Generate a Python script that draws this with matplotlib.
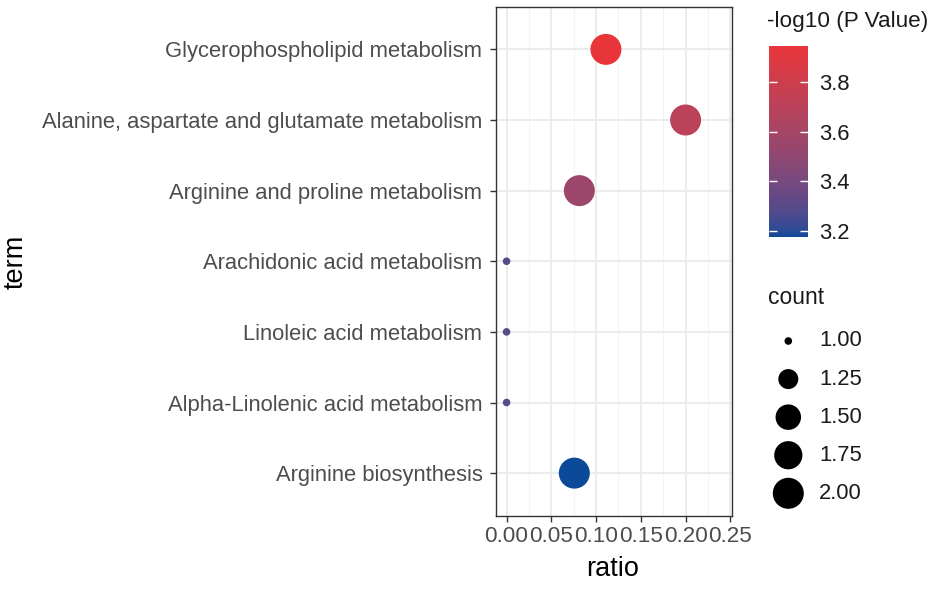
import numpy as np
import matplotlib
matplotlib.use("Agg")
import matplotlib.pyplot as plt
from matplotlib.colors import ListedColormap, Normalize
from matplotlib.cm import ScalarMappable
from matplotlib.ticker import FixedLocator

plt.rcParams['font.family'] = ['Liberation Sans', 'DejaVu Sans']

# ---------------- data ----------------
terms = [
    "Glycerophospholipid metabolism",
    "Alanine, aspartate and glutamate metabolism",
    "Arginine and proline metabolism",
    "Arachidonic acid metabolism",
    "Linoleic acid metabolism",
    "Alpha-Linolenic acid metabolism",
    "Arginine biosynthesis",
]
ratio = [0.111, 0.200, 0.0813, 0.0, 0.0, 0.0, 0.0757]
count = [2, 2, 2, 1, 1, 1, 2]
neglog10p = [3.946, 3.71, 3.56, 3.30, 3.30, 3.30, 3.173]

x_ticks = [0.00, 0.05, 0.10, 0.15, 0.20, 0.25]
x_tick_labels = ["0.00", "0.05", "0.10", "0.15", "0.20", "0.25"]
cbar_ticks = [3.2, 3.4, 3.6, 3.8]
cbar_tick_labels = ["3.2", "3.4", "3.6", "3.8"]
size_breaks = [1.00, 1.25, 1.50, 1.75, 2.00]
size_break_labels = ["1.00", "1.25", "1.50", "1.75", "2.00"]

# ---------------- colour scale (Lab interpolation like ggplot) ----------------
def _hex_to_rgb(h):
    h = h.lstrip('#')
    return np.array([int(h[i:i + 2], 16) / 255.0 for i in (0, 2, 4)])

def _srgb_to_lab(rgb):
    rgb = np.where(rgb <= 0.04045, rgb / 12.92, ((rgb + 0.055) / 1.055) ** 2.4)
    M = np.array([[0.4124, 0.3576, 0.1805],
                  [0.2126, 0.7152, 0.0722],
                  [0.0193, 0.1192, 0.9505]])
    xyz = M @ rgb / np.array([0.95047, 1.0, 1.08883])
    f = np.where(xyz > 0.008856, np.cbrt(xyz), 7.787 * xyz + 16 / 116)
    return np.array([116 * f[1] - 16, 500 * (f[0] - f[1]), 200 * (f[1] - f[2])])

def _lab_to_srgb(lab):
    L, a, b = lab
    fy = (L + 16) / 116
    fx = fy + a / 500
    fz = fy - b / 200
    f = np.array([fx, fy, fz])
    xyz = np.where(f ** 3 > 0.008856, f ** 3, (f - 16 / 116) / 7.787)
    xyz = xyz * np.array([0.95047, 1.0, 1.08883])
    Minv = np.array([[3.2406, -1.5372, -0.4986],
                     [-0.9689, 1.8758, 0.0415],
                     [0.0557, -0.2040, 1.0570]])
    rgb = Minv @ xyz
    rgb = np.where(rgb <= 0.0031308, 12.92 * rgb, 1.055 * np.clip(rgb, 0, None) ** (1 / 2.4) - 0.055)
    return np.clip(rgb, 0, 1)

low_col, high_col = "#0B4A99", "#E8353A"
lab_lo, lab_hi = _srgb_to_lab(_hex_to_rgb(low_col)), _srgb_to_lab(_hex_to_rgb(high_col))
cmap = ListedColormap([_lab_to_srgb(lab_lo + t * (lab_hi - lab_lo)) for t in np.linspace(0, 1, 256)])
norm = Normalize(vmin=min(neglog10p), vmax=max(neglog10p))

# ---------------- size scale ----------------
size_diam_px = [7.6, 20.0, 25.5, 28.2, 31.0]   # point diameter in px for legend breaks
def size_to_s(c):
    d = np.interp(c, size_breaks, size_diam_px)
    return (np.asarray(d) * 0.72) ** 2

# ---------------- figure ----------------
W, H = 935, 589
fig = plt.figure(figsize=(W / 100, H / 100), dpi=100)

def px_axes(x0, y0, x1, y1):
    return fig.add_axes([x0 / W, 1 - y1 / H, (x1 - x0) / W, (y1 - y0) / H])

ax = px_axes(496, 7, 731.7, 515.5)
n = len(terms)
ypos = np.arange(n)[::-1]
ax.set_xlim(-0.0118, 0.2515)
ax.set_ylim(-0.6, n - 1 + 0.6)

ax.xaxis.set_major_locator(FixedLocator(x_ticks))
ax.xaxis.set_minor_locator(FixedLocator([0.025, 0.075, 0.125, 0.175, 0.225]))
ax.set_xticklabels(x_tick_labels)
ax.set_yticks(ypos)
ax.set_yticklabels(terms)

ax.grid(which='major', axis='both', color='#EBEBEB', lw=1.3, zorder=0)
ax.grid(which='minor', axis='x', color='#F3F3F3', lw=0.7, zorder=0)
ax.set_axisbelow(True)

ax.scatter(ratio, ypos, s=size_to_s(count), c=neglog10p, cmap=cmap, norm=norm,
           edgecolors='none', zorder=3)

for sp in ax.spines.values():
    sp.set_color('#333333')
    sp.set_linewidth(1.0)
ax.tick_params(which='major', length=4.3, width=1.0, color='#333333')
ax.tick_params(which='minor', length=0)
ax.tick_params(axis='y', labelsize=15.8, labelcolor='#4D4D4D', pad=5.5)
ax.tick_params(axis='x', labelsize=16.2, labelcolor='#4D4D4D', pad=3)

fig.text(613 / W, 1 - 569 / H, "ratio", ha='center', va='center', fontsize=19.5, color='black')
fig.text(16 / W, 1 - 262 / H, "term", ha='center', va='center', fontsize=19.5, color='black',
         rotation=90)

# ---------------- colour bar ----------------
cax = px_axes(769, 46, 807.7, 237.3)
cb = fig.colorbar(ScalarMappable(norm=norm, cmap=cmap), cax=cax)
cb.outline.set_visible(False)
cb.set_ticks(cbar_ticks)
cb.set_ticklabels(cbar_tick_labels)
cax.tick_params(which='major', direction='in', color='white', length=5.5, width=1.0,
                left=True, right=True, labelleft=False, labelright=True,
                labelsize=15.8, labelcolor='#1A1A1A', pad=8)
cax.tick_params(which='minor', length=0)
fig.text(767 / W, 1 - 22 / H, "-log10 (P Value)", ha='left', va='center', fontsize=16.2,
         color='#1A1A1A')

# ---------------- size legend ----------------
lax = px_axes(760, 325, 860, 510)
lax.set_xlim(0, 100)
per_unit = (493.3 - 341) / 1.0
lax.set_ylim(2.0 + (510 - 493.3) / per_unit, 1.0 - (341 - 325) / per_unit)
lax.axis('off')
lax.scatter([28.3] * len(size_breaks), size_breaks, s=size_to_s(size_breaks), c='black',
            edgecolors='none', clip_on=False)
for b, lab in zip(size_breaks, size_break_labels):
    lax.text(59, b, lab, ha='left', va='center', fontsize=15.8, color='#1A1A1A')
fig.text(768 / W, 1 - 298 / H, "count", ha='left', va='center', fontsize=16.5, color='#1A1A1A')

fig.savefig("out.png", dpi=100)
